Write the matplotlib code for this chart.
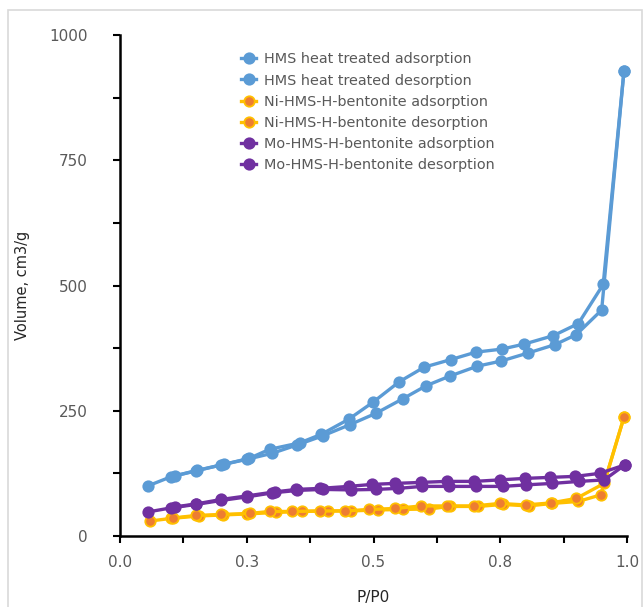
import matplotlib.pyplot as plt
from matplotlib.patches import Rectangle
from matplotlib.ticker import MultipleLocator, FixedLocator, FixedFormatter

# HMS heat treated
hms_ads_x = [0.055, 0.1, 0.15, 0.2, 0.25, 0.3, 0.35, 0.4, 0.453, 0.505, 0.558, 0.604, 0.65, 0.705, 0.751, 0.804, 0.858, 0.9, 0.95, 0.994]
hms_ads_y = [100, 118, 130, 142, 153, 165, 182, 200, 222, 245, 274, 300, 319, 339, 349, 365, 382, 402, 451, 928]
hms_des_x = [0.994, 0.953, 0.904, 0.855, 0.797, 0.753, 0.702, 0.652, 0.6, 0.551, 0.499, 0.451, 0.397, 0.355, 0.295, 0.255, 0.205, 0.152, 0.108]
hms_des_y = [928, 502, 424, 400, 383, 373, 367, 352, 337, 308, 267, 233, 203, 186, 173, 155, 143, 131, 120]

# Ni-HMS-H-bentonite
ni_ads_x = [0.06, 0.1, 0.156, 0.203, 0.25, 0.308, 0.358, 0.41, 0.456, 0.508, 0.558, 0.61, 0.65, 0.707, 0.755, 0.806, 0.852, 0.904, 0.948, 0.994]
ni_ads_y = [30, 35, 40, 42, 44, 47, 49, 50, 50, 52, 53, 54, 59, 59, 63, 60, 65, 69, 82, 237]
ni_des_x = [0.994, 0.955, 0.9, 0.85, 0.8, 0.749, 0.699, 0.644, 0.594, 0.543, 0.492, 0.443, 0.394, 0.34, 0.295, 0.256, 0.2, 0.15, 0.105]
ni_des_y = [237, 105, 75, 66, 62, 65, 60, 60, 60, 55, 53, 50, 50, 49, 49, 45, 43, 41, 36]

# Mo-HMS-H-bentonite
mo_ads_x = [0.055, 0.1, 0.15, 0.2, 0.25, 0.3, 0.35, 0.4, 0.455, 0.505, 0.548, 0.596, 0.648, 0.703, 0.755, 0.8, 0.853, 0.906, 0.955, 0.996]
mo_ads_y = [48, 56, 63, 71, 78, 86, 91, 93, 92, 93, 95, 99, 99, 99, 99, 102, 105, 109, 112, 142]
mo_des_x = [0.996, 0.946, 0.898, 0.848, 0.799, 0.749, 0.699, 0.644, 0.594, 0.543, 0.497, 0.451, 0.394, 0.348, 0.305, 0.25, 0.2, 0.15, 0.108]
mo_des_y = [142, 125, 119, 117, 115, 112, 109, 109, 107, 105, 103, 99, 95, 93, 88, 80, 73, 64, 58]

x_ticks = [0.0, 0.25, 0.5, 0.75, 1.0]
x_labels = ['0.0', '0.3', '0.5', '0.8', '1.0']
y_ticks = [0, 250, 500, 750, 1000]

blue = '#5B9BD5'
gold = '#FFC000'
orange = '#ED7D31'
purple = '#7030A0'

fig = plt.figure(figsize=(6.44, 6.07), dpi=100)
fig.patches.append(Rectangle((8 / 644, -0.1), 634 / 644, 597 / 607 + 0.1,
                             transform=fig.transFigure, fill=False,
                             edgecolor='#d9d9d9', linewidth=1.2))
ax = fig.add_axes([120 / 644, 71 / 607, 507 / 644, 501 / 607])

series = [
    (hms_ads_x, hms_ads_y, blue, blue, blue, 'HMS heat treated adsorption'),
    (hms_des_x, hms_des_y, blue, blue, blue, 'HMS heat treated desorption'),
    (ni_ads_x, ni_ads_y, gold, orange, gold, 'Ni-HMS-H-bentonite adsorption'),
    (ni_des_x, ni_des_y, gold, orange, gold, 'Ni-HMS-H-bentonite desorption'),
    (mo_ads_x, mo_ads_y, purple, purple, purple, 'Mo-HMS-H-bentonite adsorption'),
    (mo_des_x, mo_des_y, purple, purple, purple, 'Mo-HMS-H-bentonite desorption'),
]
for xs, ys, lc, fc, ec, name in series:
    ax.plot(xs, ys, color=lc, lw=2.4, marker='o', ms=7.5, mfc=fc, mec=ec,
            mew=1.3, label=name, clip_on=False)

ax.set_xlim(0, 1.0)
ax.set_ylim(0, 1000)
ax.xaxis.set_major_locator(FixedLocator(x_ticks))
ax.xaxis.set_major_formatter(FixedFormatter(x_labels))
ax.xaxis.set_minor_locator(MultipleLocator(0.125))
ax.yaxis.set_major_locator(FixedLocator(y_ticks))
ax.yaxis.set_minor_locator(MultipleLocator(125))

for s in ['top', 'right']:
    ax.spines[s].set_visible(False)
for s in ['left', 'bottom']:
    ax.spines[s].set_linewidth(1.8)
ax.tick_params(which='both', direction='out', length=5, width=1.5,
               colors='black', labelcolor='#595959', labelsize=11)
ax.tick_params(axis='x', which='major', pad=9)
ax.tick_params(axis='y', which='major', pad=18)

ax.set_xlabel('P/P0', fontsize=11, color='#262626', labelpad=14)
ax.set_ylabel('Volume, cm3/g', fontsize=10.5, color='#262626', labelpad=14)

leg = ax.legend(loc='upper left', bbox_to_anchor=(0.228, 0.977), frameon=False,
                fontsize=10.4, handlelength=1.0, handletextpad=0.55,
                labelspacing=0.5, borderaxespad=0)
for t in leg.get_texts():
    t.set_color('#595959')

fig.savefig('out.png', dpi=100)
